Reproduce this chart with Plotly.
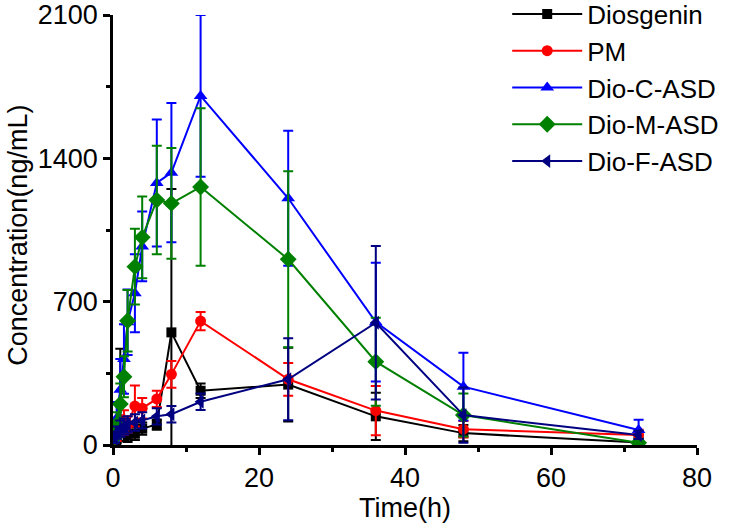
import plotly.graph_objects as go

time_h = [0.25, 0.5, 1, 1.5, 2, 3, 4, 6, 8, 12, 24, 36, 48, 72]

diosgenin = [20, 40, 120, 60, 45, 55, 80, 100, 550, 265, 295, 140, 58, 12]
diosgenin_err = [15, 30, 350, 40, 30, 30, 30, 25, 700, 35, 180, 115, 40, 25]

pm = [30, 60, 95, 110, 100, 190, 180, 225, 345, 605, 321, 168, 77, 49]
pm_err = [20, 40, 50, 60, 40, 100, 50, 40, 65, 45, 80, 120, 40, 25]

c_asd = [60, 130, 270, 420, 600, 741, 970, 1280, 1330, 1705, 1205, 600, 285, 73]
c_asd_err = [40, 80, 150, 170, 160, 190, 170, 310, 340, 395, 330, 290, 165, 50]

m_asd = [40, 100, 200, 333, 607, 871, 1014, 1196, 1180, 1260, 907, 407, 146, 11]
m_asd_err = [30, 60, 100, 100, 150, 185, 200, 265, 270, 385, 430, 215, 105, 10]

f_asd = [30, 60, 80, 90, 100, 110, 120, 140, 150, 211, 321, 597, 146, 49]
f_asd_err = [20, 30, 40, 40, 40, 40, 40, 40, 40, 40, 200, 375, 135, 20]

series = [
    ("Diosgenin", diosgenin, diosgenin_err, "#000000", "square", 10),
    ("PM", pm, pm_err, "#FF0000", "circle", 11),
    ("Dio-C-ASD", c_asd, c_asd_err, "#0000FF", "triangle-up", 12),
    ("Dio-M-ASD", m_asd, m_asd_err, "#008000", "diamond", 13),
    ("Dio-F-ASD", f_asd, f_asd_err, "#000080", "triangle-left", 12),
]

fig = go.Figure()
for name, vals, errs, color, sym, size in series:
    fig.add_trace(go.Scatter(
        x=time_h, y=vals, name=name, mode="lines+markers",
        line=dict(color=color, width=2),
        marker=dict(symbol=sym, size=size, color=color),
        error_y=dict(type="data", array=errs, visible=True, color=color,
                     thickness=2, width=5),
    ))

font = "Liberation Sans, Arial, sans-serif"
fig.update_layout(
    width=735, height=526,
    margin=dict(l=112.5, r=38, t=15, b=81, autoexpand=False),
    paper_bgcolor="white", plot_bgcolor="white",
    font=dict(family=font, size=27, color="black"),
    showlegend=True,
    legend=dict(x=0.675, y=1.057, xanchor="left", yanchor="top",
                font=dict(size=26, family=font), bgcolor="rgba(0,0,0,0)",
                tracegroupgap=0, itemwidth=70),
    xaxis=dict(range=[0, 80], tickvals=[0, 20, 40, 60, 80],
               showline=True, linecolor="black", linewidth=2.5,
               ticks="outside", ticklen=7, tickwidth=2.5, tickcolor="black",
               minor=dict(tickvals=[10, 30, 50, 70], ticks="outside", ticklen=4,
                          tickwidth=2.5, tickcolor="black"),
               showgrid=False, zeroline=False, ticklabeloverflow="allow",
               title=dict(text="Time(h)", font=dict(size=27), standoff=6),
               tickfont=dict(size=27)),
    yaxis=dict(range=[0, 2100], tickvals=[0, 700, 1400, 2100],
               showline=True, linecolor="black", linewidth=2.5,
               ticks="outside", ticklen=7, tickwidth=2.5, tickcolor="black",
               minor=dict(tickvals=[350, 1050, 1750], ticks="outside", ticklen=4,
                          tickwidth=2.5, tickcolor="black"),
               showgrid=False, zeroline=False, ticklabeloverflow="allow",
               tickfont=dict(size=27)),
    annotations=[dict(text="Concentration(ng/mL)", xref="paper", yref="paper",
                      x=-0.1617, y=0.488, xanchor="center", yanchor="middle",
                      textangle=-90, showarrow=False, font=dict(size=27))],
)

fig.write_html("out.html", config={"displayModeBar": False},
               post_script="document.body.style.margin='0px';")
